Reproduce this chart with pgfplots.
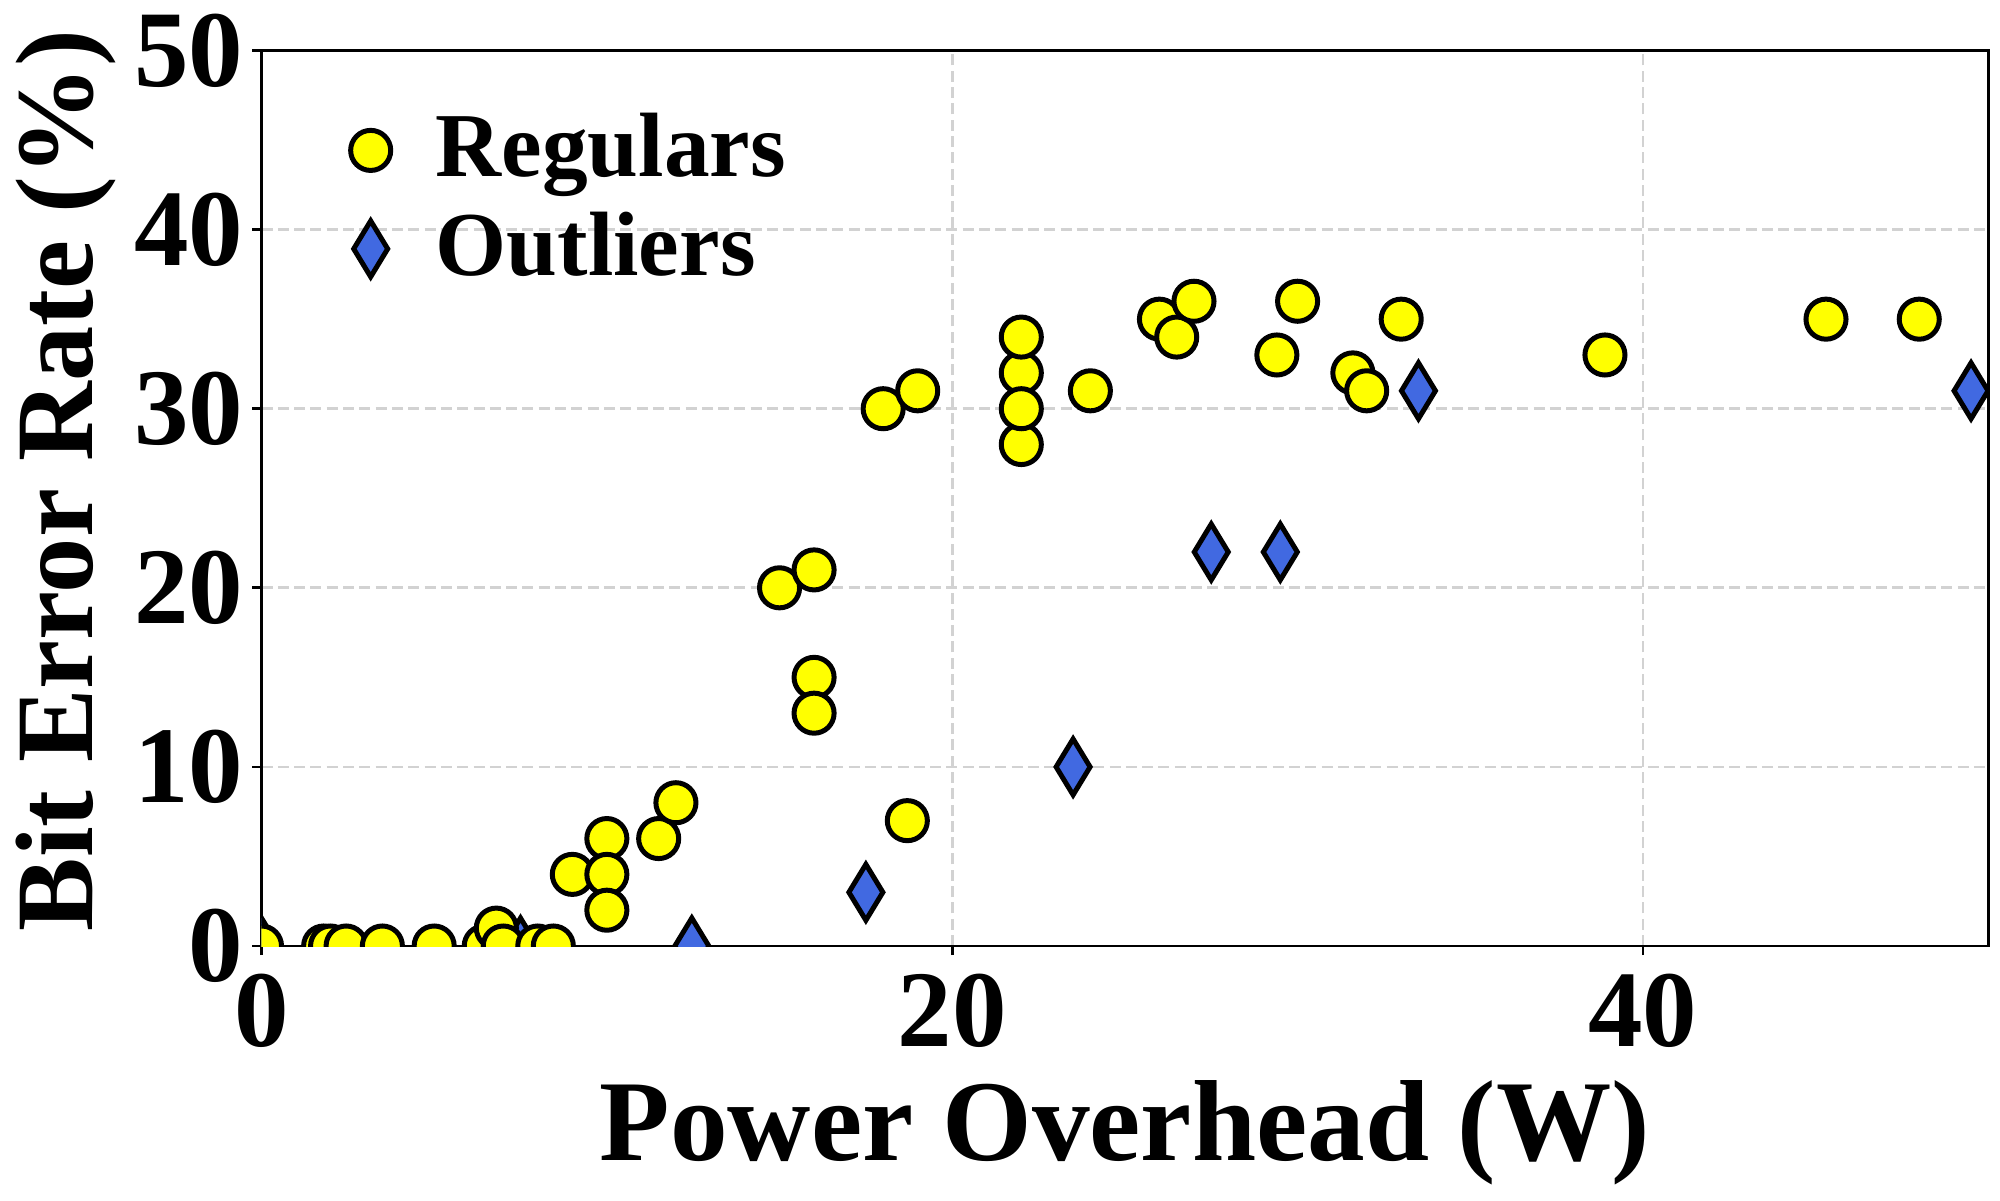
\documentclass[border=0pt]{standalone}
\usepackage{fontspec}
\setmainfont{Liberation Serif}
\usepackage{pgfplots}
\pgfplotsset{compat=1.18}
\definecolor{myyellow}{RGB}{255,255,0}
\definecolor{royalblue}{RGB}{65,105,225}
\begin{document}
\begin{tikzpicture}
\useasboundingbox (0,0) rectangle (10cm,6cm);
\begin{axis}[
  at={(1.3075cm,1.27cm)}, anchor=south west,
  scale only axis, width=8.634cm, height=4.4775cm,
  xmin=0, xmax=50, ymin=0, ymax=50,
  xtick={0,20,40}, ytick={0,10,20,30,40,50},
  tick align=outside, xtick pos=bottom, ytick pos=left,
  major tick length=0.045cm,
  grid=major,
  grid style={gray!35, line width=0.38pt, dash pattern=on 1.57pt off 0.75pt},
  axis line style={line width=0.4pt},
  every tick/.style={black, line width=0.4pt},
  /pgf/number format/assume math mode=true,
  ticklabel style={font=\bfseries\fontsize{15.5}{18}\selectfont},
  xticklabel style={anchor=north, inner sep=0pt, yshift=-0.0875cm},
  yticklabel style={anchor=east, inner sep=0pt, xshift=-0.04cm},
  xlabel={Power Overhead (W)},
  ylabel={Bit Error Rate (\%)},
  xlabel style={font=\bfseries\fontsize{16.4}{19}\selectfont, at={(axis description cs:0.5,0)}, anchor=base, yshift=-1.07cm},
  ylabel style={font=\bfseries\fontsize{15.7}{18}\selectfont, at={(axis description cs:-0.0979,0.52)}, rotate=0, anchor=base},
  clip marker paths=true,
  legend style={at={(axis description cs:0.0386,0.947)}, anchor=north west, draw=none, fill=none,
    font=\bfseries\fontsize{13}{15}\selectfont, row sep=0.1225cm,
    nodes={inner sep=0pt}, column sep=0.225cm},
  legend cell align=left,
]
\addplot[only marks, mark=diamond*, mark size=3.98pt,
  mark options={xscale=0.81, fill=royalblue, draw=black, line width=0.71pt}, forget plot]
  coordinates {(0,0) (7.5,0) (12.46,0) (17.5,3) (23.5,10) (27.5,22) (29.5,22) (33.5,31) (49.5,31)};
\addplot[only marks, mark=*, mark size=2.85pt,
  mark options={fill=myyellow, draw=black, line width=0.71pt}]
  coordinates {(0,0) (1.8,0) (2.0,0) (2.45,0) (3.5,0) (5.0,0) (6.45,0) (6.8,1) (7.0,0) (8.0,0) (8.45,0)
  (9.0,4) (10.0,6) (10.0,4) (10.0,2) (11.5,6) (12.0,8) (15.0,20) (16.0,21) (16.0,15) (16.0,13)
  (18.0,30) (19.0,31) (18.7,7) (22,28) (22,32) (22,30) (22,34) (24,31) (26,35) (26.5,34) (27,36)
  (29.4,33) (30,36) (31.6,32) (32,31) (33,35) (38.9,33) (45.3,35) (48,35)};
\addlegendentry{Regulars}
\addlegendimage{only marks, mark=diamond*, mark size=3.98pt,
  mark options={xscale=0.81, fill=royalblue, draw=black, line width=0.71pt}}
\addlegendentry{Outliers}
\end{axis}
\end{tikzpicture}
\end{document}
